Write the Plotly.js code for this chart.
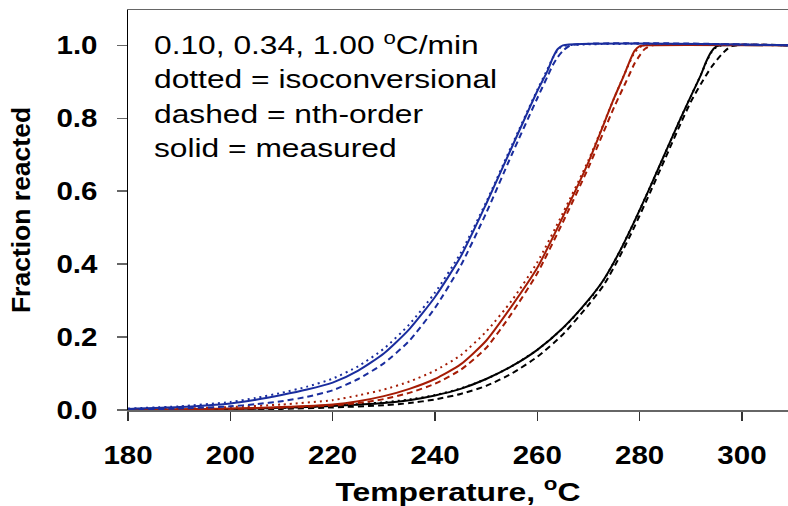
<!DOCTYPE html>
<html>
<head>
<meta charset="utf-8">
<script src="https://cdn.plot.ly/plotly-3.0.1.min.js"></script>
<style>html,body{margin:0;padding:0;background:#fff;overflow:hidden}#chart{width:788px;height:506px}</style>
</head>
<body>
<div id="chart"></div>
<script>
// Blue: 0.10 °C/min
var T_blue = [180,190,200,205,210,215,220,225,230,235,240,245,250,255,260,262,263,264,265,310];
var blue_measured = [0.003,0.008,0.018,0.028,0.041,0.056,0.075,0.108,0.155,0.222,0.31,0.42,0.565,0.72,0.875,0.93,0.965,0.99,1.0,1.0];
var blue_iso = [0.004,0.010,0.022,0.033,0.047,0.064,0.086,0.12,0.168,0.235,0.322,0.43,0.57,0.725,0.878,0.935,0.965,0.987,0.998,1.0];
var T_blue_nth = [180,190,200,205,210,215,220,225,230,235,240,245,250,255,260,262,263,264,265,266.5,310];
var blue_nth = [0.001,0.004,0.010,0.016,0.024,0.036,0.054,0.085,0.128,0.19,0.28,0.395,0.54,0.70,0.855,0.915,0.945,0.968,0.985,1.0,1.0];

// Red: 0.34 °C/min
var T_red = [180,190,200,210,220,225,230,235,240,245,250,255,260,265,270,275,277,278,279,280,281,310];
var red_measured = [0.001,0.002,0.004,0.008,0.015,0.024,0.038,0.058,0.085,0.125,0.19,0.285,0.39,0.53,0.68,0.855,0.92,0.955,0.985,0.998,1.0,1.0];
var red_iso = [0.002,0.004,0.008,0.015,0.027,0.040,0.056,0.078,0.108,0.15,0.215,0.30,0.405,0.54,0.685,0.855,0.92,0.952,0.98,0.995,1.0,1.0];
var T_red_nth = [180,190,200,210,220,225,230,235,240,245,250,255,260,265,270,275,277,278,279,280,281,282.5,310];
var red_nth = [0.0,0.001,0.003,0.006,0.012,0.019,0.03,0.047,0.072,0.11,0.17,0.265,0.375,0.515,0.665,0.83,0.89,0.92,0.95,0.972,0.99,1.0,1.0];

// Black: 1.00 °C/min
var T_black = [180,190,200,210,220,230,235,240,245,250,255,260,265,270,273,276,279,282,285,288,290,292,293,294,295,296,310];
var black_measured = [0.0,0.001,0.003,0.006,0.011,0.019,0.027,0.04,0.058,0.085,0.12,0.165,0.225,0.302,0.358,0.432,0.518,0.61,0.705,0.80,0.86,0.92,0.955,0.982,0.997,1.0,1.0];
var black_iso = [0.0,0.001,0.003,0.006,0.012,0.021,0.029,0.041,0.059,0.085,0.12,0.165,0.224,0.300,0.357,0.432,0.518,0.61,0.705,0.80,0.86,0.92,0.953,0.98,0.995,1.0,1.0];
var T_black_nth = [180,190,200,210,220,230,235,240,245,250,255,260,265,270,273,276,279,282,285,288,290,292,294,296,298,310];
var black_nth = [0.0,0.0,0.001,0.003,0.007,0.013,0.019,0.029,0.044,0.066,0.10,0.146,0.207,0.288,0.343,0.418,0.503,0.595,0.69,0.785,0.845,0.895,0.94,0.975,0.998,1.0];

var xTicks = [180,200,220,240,260,280,300];
var yTicks = [0.0,0.2,0.4,0.6,0.8,1.0];
var yTickText = ['0.0','0.2','0.4','0.6','0.8','1.0'];
var legendLines = ['0.10, 0.34, 1.00 <sup>o</sup>C/min','dotted = isoconversional','dashed = nth-order','solid = measured'];

var FONT = 'Arial, Liberation Sans, sans-serif';
var BLUE = '#1a2d9e', RED = '#a51c05', BLACK = '#000000';
function tr(x, y, c, dash) {
  return {x: x, y: y, type: 'scatter', mode: 'lines', line: {color: c, width: 2, dash: dash, shape: 'spline', smoothing: 0.6}, hoverinfo: 'skip', showlegend: false};
}
var DASH = '6px,4px', DOT = '2px,4px';
var data = [
  tr(T_black_nth, black_nth, BLACK, DASH),
  tr(T_black, black_iso, BLACK, DOT),
  tr(T_black, black_measured, BLACK, 'solid'),
  tr(T_red_nth, red_nth, RED, DASH),
  tr(T_red, red_iso, RED, DOT),
  tr(T_red, red_measured, RED, 'solid'),
  tr(T_blue_nth, blue_nth, BLUE, DASH),
  tr(T_blue, blue_iso, BLUE, DOT),
  tr(T_blue, blue_measured, BLUE, 'solid')
];

var ann = legendLines.map(function (t, i) {
  return {text: t, xref: 'paper', yref: 'paper', x: 0.036, y: [0.914, 0.827, 0.739, 0.654][i], xanchor: 'left', yanchor: 'middle', showarrow: false, align: 'left', font: {family: FONT, size: 25, color: '#000'}};
});

var layout = {
  width: 788, height: 506,
  margin: {l: 128, r: 0, t: 10, b: 96},
  paper_bgcolor: '#fff', plot_bgcolor: '#fff',
  font: {family: FONT, color: '#000'},
  xaxis: {
    range: [180, 309], tickvals: xTicks, ticktext: xTicks.map(String),
    ticks: 'outside', ticklen: 9, tickwidth: 1.5, tickcolor: '#333',
    showline: true, linecolor: '#666', linewidth: 1.5, mirror: true,
    showgrid: false, zeroline: false, ticklabelstandoff: 14,
    tickfont: {size: 25, family: FONT, weight: 'bold', color: '#000'},
    title: {text: '<b>Temperature, <sup>o</sup>C</b>', font: {size: 25.5, family: FONT, color: '#000'}, standoff: 14}
  },
  yaxis: {
    range: [0, 1.097], tickvals: yTicks, ticktext: yTickText,
    ticks: 'outside', ticklen: 10, tickwidth: 1.5, tickcolor: '#666',
    showline: true, linecolor: '#000', linewidth: 1.5,
    showgrid: false, zeroline: false, ticklabelstandoff: 14,
    tickfont: {size: 25, family: FONT, weight: 'bold', color: '#000'},
    title: {text: '<b>Fraction reacted</b>', font: {size: 26.5, family: FONT, color: '#000'}, standoff: 24}
  },
  annotations: ann
};

function stretch(sel, s, anchor) {
  document.querySelectorAll(sel).forEach(function (el) {
    var b = el.getBBox();
    var ax = anchor === 'left' ? b.x : (anchor === 'right' ? b.x + b.width : b.x + b.width / 2);
    var t = el.getAttribute('transform') || '';
    el.setAttribute('transform', t + ' translate(' + ax + ',0) scale(' + s + ',1) translate(' + (-ax) + ',0)');
  });
}

Plotly.newPlot('chart', data, layout, {displayModeBar: false, staticPlot: true}).then(function () {
  stretch('.annotation-text', 1.27, 'left');
  stretch('.xtick text', 1.18, 'center');
  stretch('.ytick text', 1.18, 'right');
  stretch('.g-xtitle text', 1.25, 'center');
});
</script>
</body>
</html>
